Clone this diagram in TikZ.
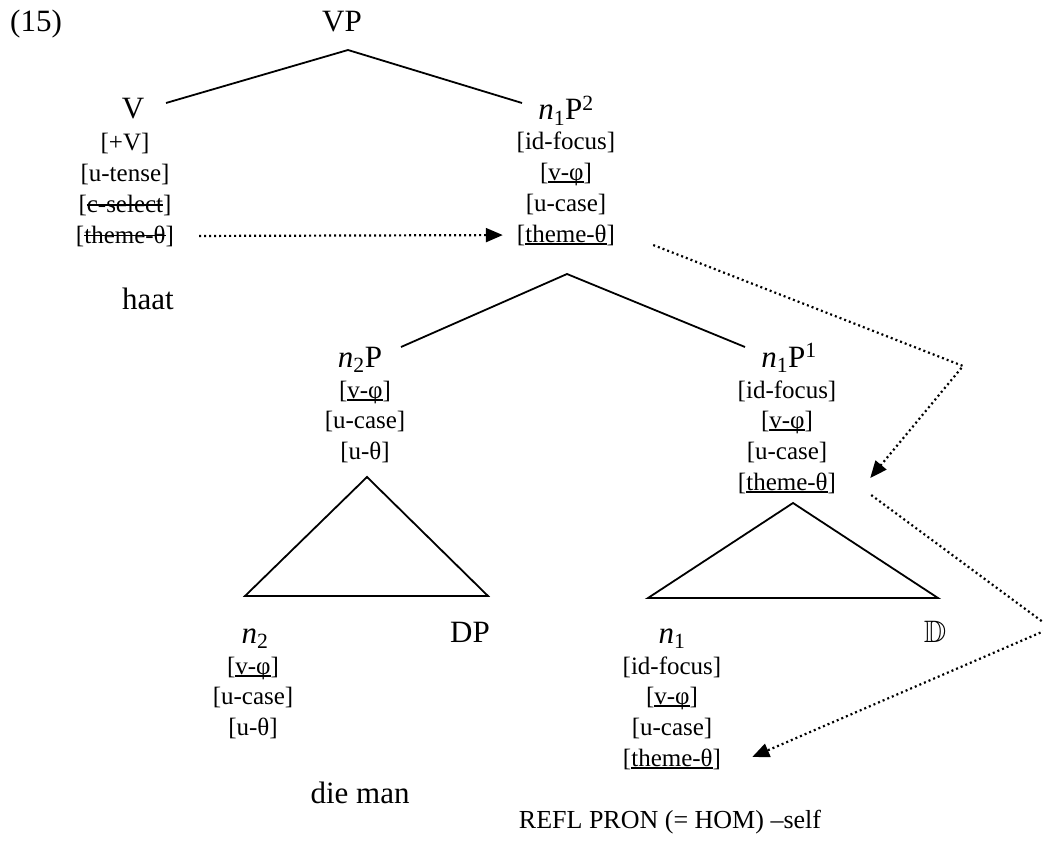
\documentclass[tikz,border=0pt]{standalone}
\usepackage{fontspec}
\setmainfont{Liberation Serif}
\usepackage{amssymb}
\usetikzlibrary{arrows.meta, positioning}

\tikzset{
  cat/.style={font=\fontsize{31}{31}\selectfont, inner sep=0pt, anchor=base},
  feat/.style={font=\fontsize{25}{25}\selectfont, inner sep=0pt, anchor=base},
  branch/.style={line width=1.8pt},
  agree/.style={line width=2.2pt, dash pattern=on 2pt off 3pt,
    -{Triangle[length=17pt, width=14pt]}}
}

% checked / deleted features
\newcommand{\checkedf}[1]{\setbox0\hbox{#1}\rlap{\rule[-0.1em]{\wd0}{0.07em}}\box0}
\newcommand{\struck}[1]{\setbox0\hbox{#1}\rlap{\rule[0.27em]{\wd0}{0.06em}}\box0}

% feature bundle: one node per feature, 30.7pt apart
\newcommand{\featstack}[4]{%
  \foreach \f [count=\i] in {#4} {
    \node[feat] (#1\i) at (#2, {#3+30.7*(\i-1)}) {\f};
  }%
}

\begin{document}
\begin{tikzpicture}[x=1pt, y=-1pt]
  \useasboundingbox (0,0) rectangle (1043,845);

  \node[cat, anchor=base west] (ex) at (10,32) {(15)};

  % top layer
  \node[cat] (VP) at (342,32) {VP};
  \node[cat] (V) at (133,119) {V};
  \node[cat] (n1P2) at (566,120) {\textit{n}\textsubscript{1}P\textsuperscript{2}};
  \featstack{Vf}{125}{151}{{[+V]},{[u-tense]},{[\struck{c-select}]},{[\struck{theme-θ}]}}
  \featstack{n1P2f}{566}{150}{{[id-focus]},{[\checkedf{v-φ}]},{[u-case]},{[\checkedf{theme-θ}]}}
  \node[cat] (haat) at (148,309) {haat};

  \coordinate (VP-foot) at (348,50);
  \coordinate (V-top) at (166,103);
  \coordinate (n1P2-top) at (522,103);
  \draw[branch] (V-top) -- (VP-foot) -- (n1P2-top);

  % middle layer
  \node[cat] (n2P) at (360,367) {\textit{n}\textsubscript{2}P};
  \node[cat] (n1P1) at (789,367) {\textit{n}\textsubscript{1}P\textsuperscript{1}};
  \featstack{n2Pf}{365}{398}{{[\checkedf{v-φ}]},{[u-case]},{[u-θ]}}
  \featstack{n1P1f}{787}{398}{{[id-focus]},{[\checkedf{v-φ}]},{[u-case]},{[\checkedf{theme-θ}]}}

  \coordinate (n1P2-foot) at (567,274);
  \coordinate (n2P-top) at (401,347);
  \coordinate (n1P1-top) at (745,347);
  \draw[branch] (n2P-top) -- (n1P2-foot) -- (n1P1-top);

  % triangles
  \draw[branch] (367,477) -- (245,596) -- (488,596) -- cycle;
  \draw[branch] (793,503) -- (648,598) -- (938,598) -- cycle;

  % bottom layer
  \node[cat] (n2) at (255,643) {\textit{n}\textsubscript{2}};
  \node[cat] (DP) at (470,642) {DP};
  \featstack{n2f}{253}{674}{{[\checkedf{v-φ}]},{[u-case]},{[u-θ]}}
  \node[cat] (dieman) at (360,803) {die man};

  \node[cat] (n1) at (672,643) {\textit{n}\textsubscript{1}};
  \node[cat] (Dbb) at (935,642) {$\mathbb{D}$};
  \featstack{n1f}{672}{674}{{[id-focus]},{[\checkedf{v-φ}]},{[u-case]},{[\checkedf{theme-θ}]}}
  \node[feat, font=\fontsize{26}{26}\selectfont] (gloss) at (670,828) {REFL PRON (= HOM) –self};

  % theta transfer
  \coordinate (bend1) at (963,366);
  \coordinate (bend2) at (1051,628);
  \draw[agree, shorten <=25pt, shorten >=14pt] (Vf4.east) -- (n1P2f4.west);
  \draw[agree] ([shift={(38,10)}]n1P2f4.east) -- (bend1) -- ([shift={(34,-5)}]n1P1f4.east);
  \draw[agree] ([shift={(35,12)}]n1P1f4.east) -- (bend2) -- ([shift={(31,-2)}]n1f4.east);
\end{tikzpicture}
\end{document}
